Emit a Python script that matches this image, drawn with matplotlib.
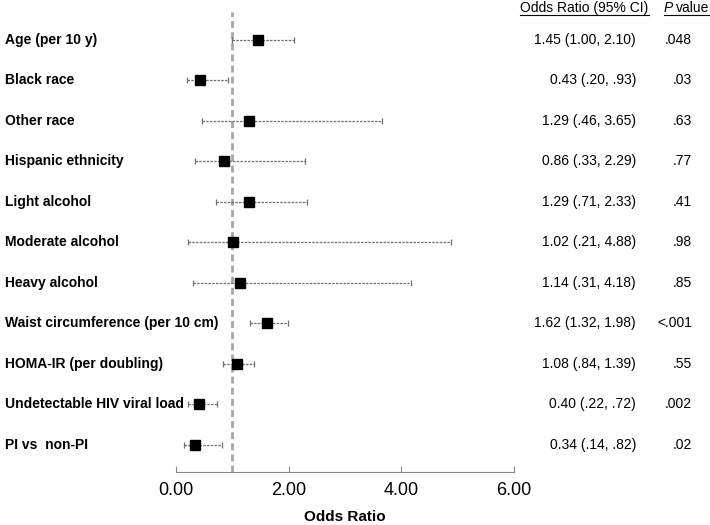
import matplotlib.pyplot as plt
import matplotlib.transforms as mtransforms
from matplotlib.lines import Line2D
import numpy as np

plt.rcParams['font.family'] = ['Liberation Sans', 'DejaVu Sans']

labels = ['Age (per 10 y)', 'Black race', 'Other race', 'Hispanic ethnicity',
          'Light alcohol', 'Moderate alcohol', 'Heavy alcohol',
          'Waist circumference (per 10 cm)', 'HOMA-IR (per doubling)',
          'Undetectable HIV viral load', 'PI vs  non-PI']
odds = [1.45, 0.43, 1.29, 0.86, 1.29, 1.02, 1.14, 1.62, 1.08, 0.40, 0.34]
lower = [1.00, 0.20, 0.46, 0.33, 0.71, 0.21, 0.31, 1.32, 0.84, 0.22, 0.14]
upper = [2.10, 0.93, 3.65, 2.29, 2.33, 4.88, 4.18, 1.98, 1.39, 0.72, 0.82]
ci_text = ['1.45 (1.00, 2.10)', '0.43 (.20, .93)', '1.29 (.46, 3.65)',
           '0.86 (.33, 2.29)', '1.29 (.71, 2.33)', '1.02 (.21, 4.88)',
           '1.14 (.31, 4.18)', '1.62 (1.32, 1.98)', '1.08 (.84, 1.39)',
           '0.40 (.22, .72)', '0.34 (.14, .82)']
p_text = ['.048', '.03', '.63', '.77', '.41', '.98', '.85', '<.001', '.55',
          '.002', '.02']
xticks = [0, 2, 4, 6]

fig = plt.figure(figsize=(7.1, 5.25), dpi=100)
ax = fig.add_axes([176 / 710, 53 / 525, 338 / 710, 460 / 525])

n = len(labels)
y = np.arange(n)[::-1]
odds = np.array(odds)
lower = np.array(lower)
upper = np.array(upper)

ax.axvline(1, color='#a6a6a6', lw=2, ls=(0, (2.5, 1.5)), zorder=1)

eb = ax.errorbar(odds, y, xerr=[odds - lower, upper - odds], fmt='none',
                 ecolor='#6e6e6e', elinewidth=0.9, capsize=2.5, capthick=0.9,
                 zorder=2)
eb[2][0].set_linestyle((0, (2, 1)))
ax.plot(odds, y, 's', color='black', markersize=7.8, zorder=3)

ax.set_xlim(0, 6)
ax.set_ylim(-0.67, n - 1 + 0.69)
ax.set_xticks(xticks)
ax.set_xticklabels(['%.2f' % t for t in xticks], fontsize=13)
ax.set_yticks([])
for s in ['top', 'right', 'left']:
    ax.spines[s].set_visible(False)
ax.spines['bottom'].set_color('#888888')
ax.tick_params(axis='x', direction='in', length=4, color='#888888', pad=7)
ax.set_xlabel('Odds Ratio', fontsize=11, fontweight='bold', labelpad=8)

trans = mtransforms.blended_transform_factory(fig.transFigure, ax.transData)
for i in range(n):
    ax.text(5 / 710, y[i], labels[i], transform=trans, fontsize=10,
            fontweight='bold', ha='left', va='center')
    ax.text(636 / 710, y[i], ci_text[i], transform=trans, fontsize=10,
            ha='right', va='center')
    ax.text(692 / 710, y[i], p_text[i], transform=trans, fontsize=10,
            ha='right', va='center')

hy = 1 - 8 / 525
fig.text(584.5 / 710, hy, 'Odds Ratio (95% CI)', fontsize=10, ha='center', va='center')
fig.text(664 / 710, hy, 'P', fontsize=10, style='italic', ha='left', va='center')
fig.text(676 / 710, hy, 'value', fontsize=10, ha='left', va='center')
uy = 1 - 14.5 / 525
fig.add_artist(Line2D([520 / 710, 649 / 710], [uy, uy], color='black', lw=0.8))
fig.add_artist(Line2D([664 / 710, 709 / 710], [uy, uy], color='black', lw=0.8))

fig.savefig('out.png', dpi=100)
